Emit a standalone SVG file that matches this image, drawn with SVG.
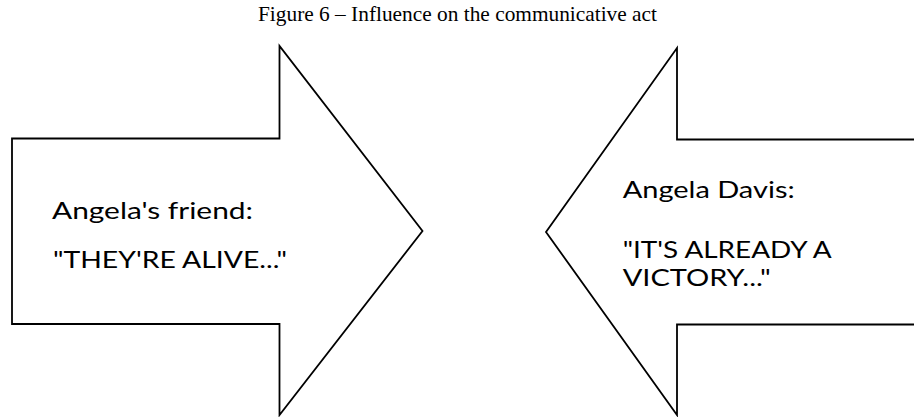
<svg xmlns="http://www.w3.org/2000/svg" width="914" height="417" viewBox="0 0 914 417">
  <style>
    .arrow { fill: #ffffff; stroke: #000000; stroke-width: 1.8; stroke-linejoin: miter; }
    .lbl { font-family: Lato, "Open Sans", "Liberation Sans", sans-serif; font-size: 23px; fill: #000000; }
    .title { font-family: "Liberation Serif", "Times New Roman", serif; font-size: 21px; fill: #000000; }
  </style>
  <rect x="0" y="0" width="914" height="417" fill="#ffffff"/>
  <g id="title">
    <text class="title" x="258" y="21" textLength="399" lengthAdjust="spacingAndGlyphs">Figure 6 – Influence on the communicative act</text>
  </g>
  <g id="node-friend">
    <polygon class="arrow" points="12,138.5 279.5,138.5 279.5,46 422.5,231 279.5,415 279.5,324 12,324"/>
    <text class="lbl" x="52" y="219" textLength="201" lengthAdjust="spacingAndGlyphs">Angela's friend:</text>
    <text class="lbl" x="53" y="268" textLength="234" lengthAdjust="spacingAndGlyphs">"THEY'RE ALIVE..."</text>
  </g>
  <g id="node-davis">
    <polygon class="arrow" points="920,139.5 677,139.5 677,48 546,232 677,415 677,324.5 920,324.5"/>
    <text class="lbl" x="622.7" y="197.5" textLength="172" lengthAdjust="spacingAndGlyphs">Angela Davis:</text>
    <text class="lbl" x="622.7" y="257.5" textLength="209" lengthAdjust="spacingAndGlyphs">"IT'S ALREADY A</text>
    <text class="lbl" x="622.7" y="285.5" textLength="148" lengthAdjust="spacingAndGlyphs">VICTORY..."</text>
  </g>
  <g id="connectors"/>
</svg>
